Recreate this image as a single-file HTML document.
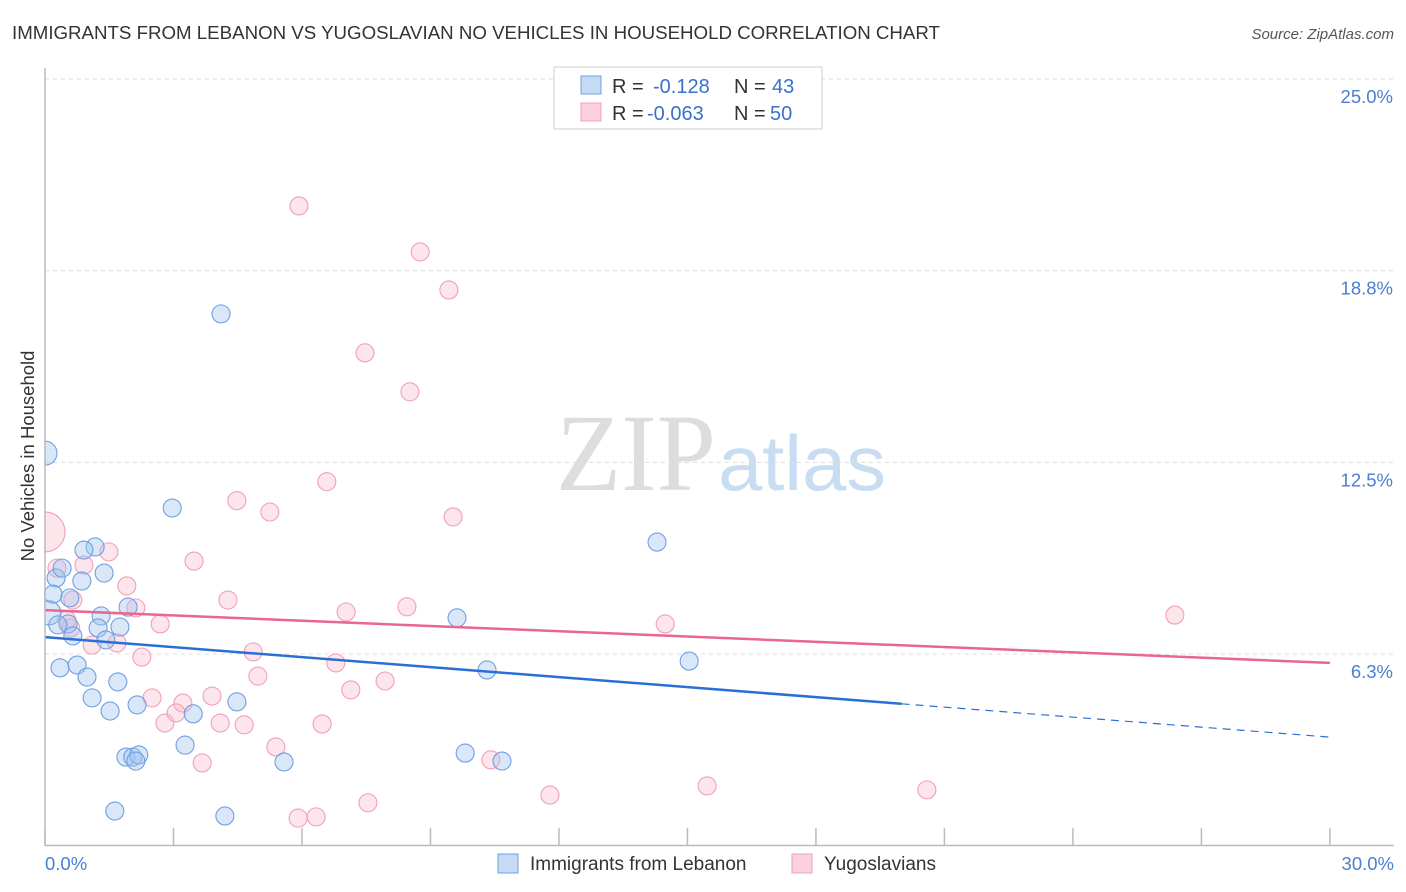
<!DOCTYPE html>
<html><head><meta charset="utf-8"><style>
body{margin:0;background:#fff;font-family:"Liberation Sans",sans-serif;}
svg{display:block}
</style></head><body>
<svg id="chart" width="1406" height="892">
<text x="12" y="39" font-size="18.7" fill="#333">IMMIGRANTS FROM LEBANON VS YUGOSLAVIAN NO VEHICLES IN HOUSEHOLD CORRELATION CHART</text>
<text x="1394" y="39" font-size="15" fill="#555" font-style="italic" text-anchor="end">Source: ZipAtlas.com</text>
<text x="716" y="490" font-size="110" font-family="Liberation Serif,serif" fill="#ddd" text-anchor="end" textLength="160" lengthAdjust="spacingAndGlyphs">ZIP</text>
<text x="718" y="490" font-size="78" fill="#c8dcf2" textLength="168" lengthAdjust="spacingAndGlyphs">atlas</text>
<g id="grid"></g>
<g id="marks"></g>
<rect x="0" y="60" width="44.2" height="790" fill="#fff"/>
<line x1="45" x2="45" y1="68" y2="846" stroke="#bbb" stroke-width="1.5"/>
<text transform="translate(34,456) rotate(-90)" font-size="18.5" fill="#333" text-anchor="middle">No Vehicles in Household</text>
<text x="45" y="870" font-size="18.5" fill="#4a7fd0">0.0%</text>
<text x="1394" y="870" font-size="18.5" fill="#4a7fd0" text-anchor="end">30.0%</text>
<g>
<rect x="554" y="67" width="268" height="62" fill="#fff" stroke="#ccc"/>
<rect x="581" y="76" width="20" height="18" fill="#c5daf5" stroke="#6fa0e0"/>
<rect x="581" y="103" width="20" height="18" fill="#fcd0dc" stroke="#f0a0b8"/>
<text x="612" y="93" font-size="20" fill="#333">R = <tspan x="653" fill="#3a70c8">-0.128</tspan><tspan x="734">N = </tspan><tspan x="772" fill="#3a70c8">43</tspan></text>
<text x="612" y="120" font-size="20" fill="#333">R = <tspan x="647" fill="#3a70c8">-0.063</tspan><tspan x="734">N = </tspan><tspan x="770" fill="#3a70c8">50</tspan></text>
</g>
<g>
<rect x="498" y="854" width="20" height="19" fill="#c5daf5" stroke="#6fa0e0"/>
<text x="530" y="870" font-size="19" fill="#333">Immigrants from Lebanon</text>
<rect x="792" y="854" width="20" height="19" fill="#fcd0dc" stroke="#f0a0b8"/>
<text x="824" y="870" font-size="19" fill="#333">Yugoslavians</text>
</g>
</svg>
<script>
const yTicks=[6.25,12.5,18.75,25];
const yTickLabels=["6.3%","12.5%","18.8%","25.0%"];
const xTicks=[0,3,6,9,12,15,18,21,24,27,30];
const blueX=[0,4.11,2.97,14.29,1.17,0.91,0.26,0.40,0.86,1.38,0.19,0.58,0.09,1.31,1.94,0.54,1.24,1.75,0.65,1.42,0.35,0.75,0.98,1.70,1.10,1.52,2.15,3.46,4.48,9.62,10.32,15.04,3.27,1.89,2.05,2.19,2.12,5.58,9.81,10.67,1.63,4.20,0.3];
const blueY=[12.80,17.34,11.01,9.90,9.74,9.64,8.73,9.05,8.63,8.89,8.20,8.08,7.59,7.49,7.78,7.23,7.10,7.13,6.84,6.71,5.80,5.89,5.50,5.34,4.82,4.39,4.59,4.30,4.69,7.43,5.73,6.02,3.28,2.89,2.89,2.96,2.76,2.73,3.02,2.76,1.13,0.97,7.2];
const blueR=[12,9,9,9,9,9,9,9,9,9,9,9,12,9,9,9,9,9,9,9,9,9,9,9,9,9,9,9,9,9,9,9,9,9,9,9,9,9,9,9,9,9,9];
const pinkX=[0,5.93,8.76,9.43,7.47,8.52,6.58,4.48,5.25,9.53,1.49,0.91,0.28,3.48,1.91,0.65,2.12,4.27,7.03,8.45,2.69,0.51,1.10,1.68,2.26,4.86,6.79,4.97,7.14,7.94,2.50,3.22,3.90,2.80,3.06,4.09,4.65,6.47,5.39,3.67,10.41,11.79,15.46,20.59,7.54,5.91,6.33,26.38,14.48,0.6];
const pinkY=[10.23,20.86,19.36,18.12,16.07,14.80,11.87,11.25,10.88,10.72,9.58,9.15,9.05,9.28,8.47,8.01,7.75,8.01,7.62,7.79,7.23,7.36,6.54,6.61,6.15,6.32,5.96,5.53,5.08,5.37,4.82,4.65,4.88,4.00,4.33,4.00,3.94,3.97,3.22,2.70,2.80,1.65,1.95,1.82,1.40,0.90,0.94,7.52,7.23,7.1];
const pinkR=[20,9,9,9,9,9,9,9,9,9,9,9,9,9,9,9,9,9,9,9,9,9,9,9,9,9,9,9,9,9,9,9,9,9,9,9,9,9,9,9,9,9,9,9,9,9,9,9,9,9];
const blueTrend=[6.80,3.54];
const blueSolidEnd=20;
const pinkTrend=[7.68,5.96];
const NS="http://www.w3.org/2000/svg";
const sx=v=>45+v*42.83;
const sy=v=>845.7-v*30.67;
function mk(tag,attrs,parent){const e=document.createElementNS(NS,tag);for(const k in attrs)e.setAttribute(k,attrs[k]);parent.appendChild(e);return e;}
const grid=document.getElementById('grid'),marks=document.getElementById('marks');
yTicks.forEach((t,i)=>{
 const l=mk('line',{x1:45,x2:1394,y1:sy(t),y2:sy(t),stroke:'#ddd','stroke-dasharray':'4,4'},grid);
 
 
 const tx=mk('text',{x:1393,y:sy(t)+24,'font-size':18.5,fill:'#4a7fd0','text-anchor':'end'},grid);
 tx.textContent=yTickLabels[i];
 
 
});
const bx=mk('line',{x1:45,x2:1394,y1:845.5,y2:845.5,stroke:'#bbb','stroke-width':1.5},grid);


xTicks.forEach(t=>{
 const l=mk('line',{x1:sx(t),x2:sx(t),y1:828,y2:846,stroke:'#bbb','stroke-width':1.5},grid);
 
 
});
function dots(X,Y,R,fill,stroke,name){
 X.forEach((x,i)=>{
  const c=mk('circle',{cx:sx(x),cy:sy(Y[i]),r:R[i],fill:fill,stroke:stroke,'stroke-width':1.1},marks);
  
  
 });
}
dots(pinkX,pinkY,pinkR,'rgba(248,180,200,0.35)','#f0a0b8','point-yugoslavians');
dots(blueX,blueY,blueR,'rgba(160,196,240,0.4)','#6fa0e0','point-lebanon');
const bAt=x=>blueTrend[0]+(blueTrend[1]-blueTrend[0])*x/30;
const pAt=x=>pinkTrend[0]+(pinkTrend[1]-pinkTrend[0])*x/30;
const t1=mk('line',{x1:sx(0),y1:sy(pAt(0)),x2:sx(30),y2:sy(pAt(30)),stroke:'#e86690','stroke-width':2.5},marks);


const t2=mk('line',{x1:sx(0),y1:sy(bAt(0)),x2:sx(blueSolidEnd),y2:sy(bAt(blueSolidEnd)),stroke:'#2a6fd6','stroke-width':2.5},marks);


const t3=mk('line',{x1:sx(blueSolidEnd),y1:sy(bAt(blueSolidEnd)),x2:sx(30),y2:sy(bAt(30)),stroke:'#2a6fd6','stroke-width':1.2,'stroke-dasharray':'8,6'},marks);


</script>
</body></html>
